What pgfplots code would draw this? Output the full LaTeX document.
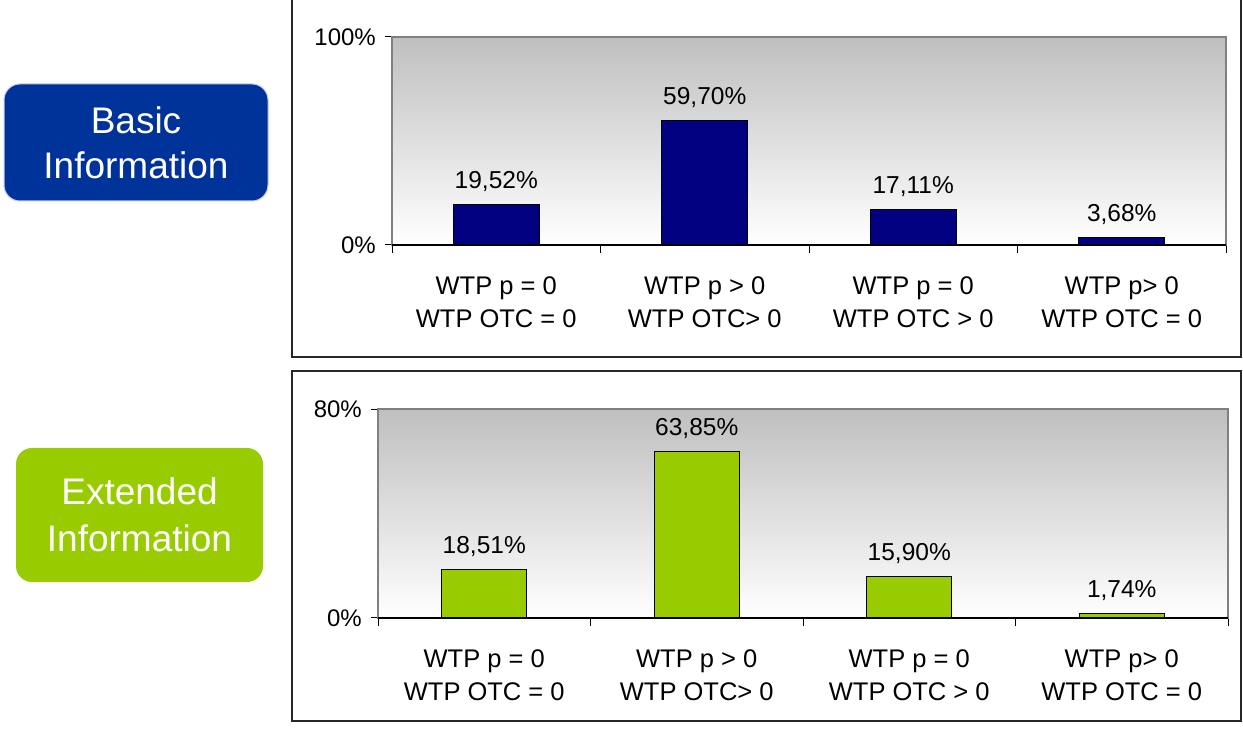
\documentclass[border=0pt]{standalone}
\usepackage{pgfplots}
\pgfplotsset{compat=1.18}
\usepackage{fontspec}
\setmainfont{Liberation Sans}
\definecolor{navybar}{HTML}{000080}
\definecolor{greenbar}{HTML}{99CC00}
\definecolor{basicblue}{HTML}{003399}
\definecolor{borderline}{HTML}{808080}
\definecolor{lavender}{HTML}{C8C8FF}

\pgfplotsset{
  panel/.style={
    scale only axis,
    xmin=0.5, xmax=4.5, ymin=0,
    axis line style={draw=borderline, line width=1.2pt},
    xtick={1,2,3,4},
    xticklabels={{WTP p = 0\\WTP OTC = 0},{WTP p > 0\\WTP OTC> 0},{WTP p = 0\\WTP OTC > 0},{WTP p> 0\\WTP OTC = 0}},
    major x tick style={draw=none},
    minor xtick={0.5,1.5,2.5,3.5,4.5},
    minor tick length=8pt,
    major tick length=7pt,
    tick align=outside,
    xtick pos=bottom, ytick pos=left,
    tick style={black, line width=1pt},
    x tick label style={align=center, inner sep=0pt, anchor=north, yshift=-24pt,
      font=\fontsize{25.5}{33}\selectfont},
    y tick label style={inner sep=0pt, anchor=east, xshift=-9pt,
      font=\fontsize{24}{28}\selectfont},
    axis background/.style={top color=gray!50, bottom color=white},
    ybar,
    nodes near coords={\pgfmathprintnumber[fixed,fixed zerofill,precision=2,use comma,assume math mode=true]{\pgfplotspointmeta}\%},
    every node near coord/.append style={font=\fontsize{24.5}{28}\selectfont, anchor=base, inner sep=0pt, yshift=16pt, text=black},
    clip=false,
  }
}

\begin{document}
\begin{tikzpicture}
\path[use as bounding box] (0pt,0pt) rectangle (1243pt,731pt);

% panel frames
\draw[black!85, line width=1.5pt] (292pt,735pt) -- (292pt,374pt) -- (1241pt,374pt) -- (1241pt,735pt);
\draw[black!85, line width=1.5pt] (292pt,10pt) rectangle (1241pt,360pt);

% left labels
\node[draw=lavender, line width=1pt, fill=basicblue, rounded corners=16pt,
      minimum width=264pt, minimum height=117pt, inner sep=0pt, text=white, align=center,
      font=\fontsize{37}{45}\selectfont] at (136pt,588.5pt) {Basic\\Information};
\node[fill=greenbar, rounded corners=16pt,
      minimum width=247pt, minimum height=134pt, inner sep=0pt, text=white, align=center,
      font=\fontsize{37}{47}\selectfont] at (139.5pt,216pt) {Extended\\Information};

% top chart
\begin{axis}[panel, at={(392pt,486pt)}, anchor=south west, width=834pt, height=208pt,
  ymax=100, ytick={0,100}, yticklabels={0\%,100\%}, bar width=86pt]
\addplot[fill=navybar, draw=black, line width=1pt] coordinates {(1,19.52) (2,59.70) (3,17.11) (4,3.68)};
\draw[black, line width=1.2pt] (rel axis cs:0,0) -- (rel axis cs:1,0);
\end{axis}

% bottom chart
\begin{axis}[panel, at={(378pt,113pt)}, anchor=south west, width=850pt, height=209pt,
  ymax=80, ytick={0,80}, yticklabels={0\%,80\%}, bar width=85pt]
\addplot[fill=greenbar, draw=black, line width=1pt] coordinates {(1,18.51) (2,63.85) (3,15.90) (4,1.74)};
\draw[black, line width=1.2pt] (rel axis cs:0,0) -- (rel axis cs:1,0);
\end{axis}
\end{tikzpicture}
\end{document}
